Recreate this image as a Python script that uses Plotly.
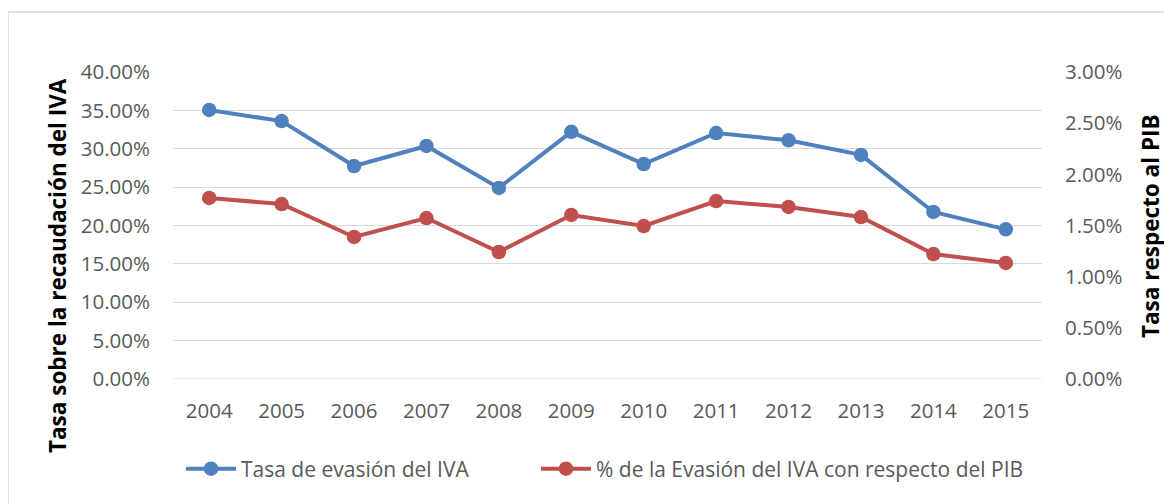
import plotly.graph_objects as go

years = ["2004", "2005", "2006", "2007", "2008", "2009", "2010", "2011", "2012", "2013", "2014", "2015"]
tasa_evasion = [0.3505, 0.336, 0.2775, 0.3036, 0.249, 0.322, 0.280, 0.3205, 0.311, 0.292, 0.2176, 0.195]
evasion_pib = [0.01769, 0.0171, 0.01388, 0.01573, 0.01241, 0.01603, 0.01495, 0.01739, 0.01681, 0.01583, 0.01221, 0.01134]

name_blue = "Tasa de evasión del IVA"
name_red = "% de la Evasión del IVA con respecto del PIB"
left_title = "Tasa sobre la recaudación del IVA"
right_title = "Tasa respecto al PIB"

BLUE = "#4F81BD"
RED = "#C0504D"
FONT = "Open Sans"

fig = go.Figure()
fig.add_trace(go.Scatter(
    x=years, y=tasa_evasion, name=name_blue, mode="lines+markers",
    line=dict(color=BLUE, width=4), marker=dict(color=BLUE, size=14.5),
    yaxis="y", legend="legend"))
fig.add_trace(go.Scatter(
    x=years, y=evasion_pib, name=name_red, mode="lines+markers",
    line=dict(color=RED, width=4), marker=dict(color=RED, size=14.5),
    yaxis="y2", legend="legend2"))

# page offset (body margin) of 8px
OFF = 8
W, H = 1172, 504
PL, PR, PT, PB = 173, 1042, 72, 379  # plot area in page coords
L = PL - OFF
T = PT - OFF
R = W - (PR - OFF)
B = H - (PB - OFF)
pw = PR - PL
ph = PB - PT

def px(x):
    return (x - PL) / pw

def py(y):
    return (PB - y) / ph

TICK = dict(size=20.5, color="#595959", family=FONT)
LEG_FONT = dict(size=21, color="#595959", family=FONT)

fig.update_layout(
    width=W, height=H,
    margin=dict(l=L, r=R, t=T, b=B),
    paper_bgcolor="white", plot_bgcolor="white",
    font=dict(family=FONT, color="#595959", size=20),
    xaxis=dict(type="category", range=[-0.5, 11.5], showgrid=False,
               showline=False, zeroline=False, ticks="",
               ticklabelstandoff=17, tickfont=TICK),
    yaxis=dict(range=[0, 0.4], dtick=0.05, tickformat=".2%",
               showgrid=True, gridcolor="#D9D9D9", gridwidth=1,
               zeroline=False, showline=False, ticks="",
               ticklabelstandoff=22, tickfont=TICK),
    yaxis2=dict(range=[0, 0.03], dtick=0.005, tickformat=".2%",
                overlaying="y", side="right", showgrid=False,
                zeroline=False, showline=False, ticks="",
                ticklabelstandoff=22, tickfont=TICK),
    legend=dict(orientation="h", x=px(181), xanchor="left",
                y=py(469), yanchor="middle", font=LEG_FONT,
                itemwidth=50, bgcolor="rgba(0,0,0,0)"),
    legend2=dict(orientation="h", x=px(536), xanchor="left",
                 y=py(469), yanchor="middle", font=LEG_FONT,
                 itemwidth=50, bgcolor="rgba(0,0,0,0)"),
    showlegend=True,
    annotations=[
        dict(text="<b>" + left_title + "</b>", textangle=-90, xref="paper", yref="paper",
             x=px(57), y=py(266), xanchor="center", yanchor="middle",
             showarrow=False, font=dict(size=22.5, color="black", family=FONT)),
        dict(text="<b>" + right_title + "</b>", textangle=-90, xref="paper", yref="paper",
             x=px(1150), y=py(226), xanchor="center", yanchor="middle",
             showarrow=False, font=dict(size=22.5, color="black", family=FONT)),
    ],
    shapes=[
        dict(type="rect", xref="paper", yref="paper",
             x0=px(8), x1=px(1200), y0=py(540), y1=py(12),
             line=dict(color="#D9D9D9", width=1.5), fillcolor="rgba(0,0,0,0)",
             layer="below"),
        dict(type="line", xref="paper", yref="y", x0=0, x1=1, y0=0, y1=0,
             line=dict(color="#D9D9D9", width=1), layer="below"),
    ],
)

fig.write_html("out.html")
